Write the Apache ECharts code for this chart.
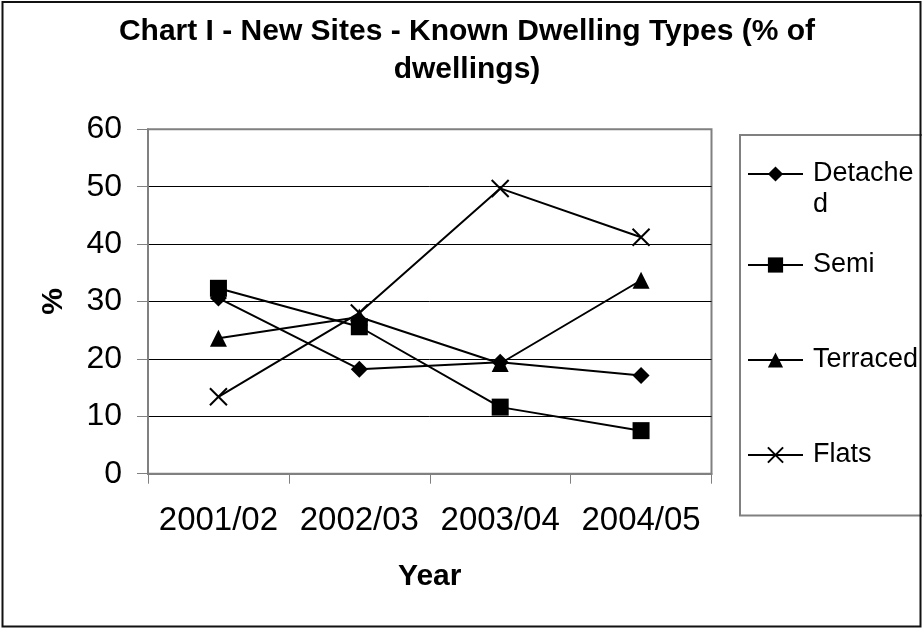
<!DOCTYPE html>
<html>
<head>
<meta charset="utf-8">
<script src="https://cdn.jsdelivr.net/npm/echarts@6/dist/echarts.min.js"></script>
<style>
  html, body { margin: 0; padding: 0; background: #fff; }
  #chart { width: 922px; height: 628px; }
</style>
</head>
<body>
<div id="chart"></div>
<script>
// Share of known dwelling types on new sites, by year (% of dwellings)
const years = ['2001/02', '2002/03', '2003/04', '2004/05'];
const detached = [30.6, 18.2, 19.4, 17.1];
const semi = [32.3, 25.6, 11.6, 7.5];
const terraced = [23.6, 27.3, 19.2, 33.7];
const flats = [13.4, 28.0, 49.7, 41.2];
const yTicks = [0, 10, 20, 30, 40, 50, 60];

const FONT = '"Liberation Sans", Arial, sans-serif';
const CROSS = 'path://M0,0L10,10M10,0L0,10';

function lineSeries(name, values, symbol, size) {
  return {
    name: name,
    type: 'line',
    data: values,
    symbol: symbol,
    symbolSize: size,
    showAllSymbol: true,
    lineStyle: { color: '#000', width: 2 },
    itemStyle: symbol === CROSS
      ? { color: '#000', borderColor: '#000', borderWidth: 2 }
      : { color: '#000', borderWidth: 0 },
    emphasis: { disabled: true },
    animation: false
  };
}

// One legend block per series so each row sits at its own height.
// The wrapped label keeps its first line level with the icon.
function legendItem(name, top, label) {
  return {
    data: [name],
    orient: 'vertical',
    left: 747,
    top: top,
    padding: 0,
    itemWidth: 55,
    itemHeight: 19,
    selectedMode: false,
    lineStyle: { color: '#000', width: 2 },
    formatter: label ? function () { return label; } : undefined,
    textStyle: {
      fontFamily: FONT,
      fontSize: 27,
      color: '#000',
      lineHeight: 31,
      padding: [0, 0, 0, 5]
    }
  };
}

const chart = echarts.init(document.getElementById('chart'), null, { renderer: 'canvas' });

chart.setOption({
  backgroundColor: '#fff',
  animation: false,
  title: {
    text: 'Chart I - New Sites - Known Dwelling Types (% of\ndwellings)',
    left: 462,
    top: 8,
    textAlign: 'center',
    textStyle: {
      fontFamily: FONT,
      fontSize: 30,
      fontWeight: 'bold',
      color: '#000',
      lineHeight: 38
    }
  },
  graphic: [
    {
      type: 'rect',
      shape: { x: 2.5, y: 2, width: 918, height: 624.5 },
      style: { fill: 'none', stroke: '#111', lineWidth: 2 },
      z: 100
    },
    {
      type: 'rect',
      shape: { x: 740, y: 135, width: 190, height: 380.5 },
      style: { fill: 'none', stroke: '#808080', lineWidth: 2 },
      z: 50
    }
  ],
  legend: [
    legendItem('Detached', 127.5, '\nDetache\nd'),
    legendItem('Semi', 249.5),
    legendItem('Terraced', 344.5),
    legendItem('Flats', 439.5)
  ],
  grid: {
    left: 148,
    right: 210.5,
    top: 129.3,
    bottom: 154.3,
    show: true,
    borderColor: '#808080',
    borderWidth: 2,
    backgroundColor: 'transparent'
  },
  xAxis: {
    type: 'category',
    data: years,
    boundaryGap: true,
    name: 'Year',
    nameLocation: 'middle',
    nameGap: 88,
    nameTextStyle: { fontFamily: FONT, fontSize: 30, fontWeight: 'bold', color: '#000' },
    axisLine: { lineStyle: { color: '#808080', width: 2 } },
    axisTick: { show: true, interval: 0, length: 10, lineStyle: { color: '#808080', width: 1 } },
    axisLabel: { interval: 0, fontFamily: FONT, fontSize: 33, color: '#000', margin: 31 },
    splitLine: { show: false }
  },
  yAxis: {
    type: 'value',
    min: yTicks[0],
    max: yTicks[yTicks.length - 1],
    interval: yTicks[1] - yTicks[0],
    name: '%',
    nameLocation: 'middle',
    nameRotate: 90,
    nameGap: 79,
    nameTextStyle: { fontFamily: FONT, fontSize: 30, fontWeight: 'bold', color: '#000' },
    axisLine: { show: true, lineStyle: { color: '#808080', width: 2 } },
    axisTick: { show: true, length: 11, lineStyle: { color: '#808080', width: 1 } },
    axisLabel: { fontFamily: FONT, fontSize: 32, color: '#000', margin: 26 },
    splitLine: {
      show: true,
      showMinLine: false,
      showMaxLine: false,
      lineStyle: { color: '#000', width: 1 }
    }
  },
  series: [
    lineSeries('Detached', detached, 'diamond', 17),
    lineSeries('Semi', semi, 'rect', 17),
    lineSeries('Terraced', terraced, 'triangle', 17),
    lineSeries('Flats', flats, CROSS, 17)
  ]
});
</script>
</body>
</html>
